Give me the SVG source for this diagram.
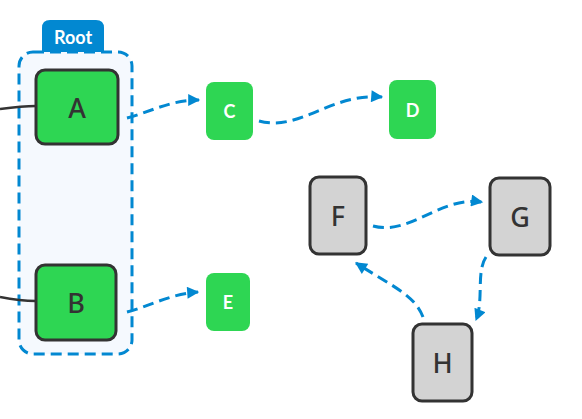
<svg xmlns="http://www.w3.org/2000/svg" width="582" height="419" viewBox="0 0 582 419">
<style>
.edge{fill:none;stroke:#0288d1;stroke-width:3;stroke-dasharray:11 6;}
.in{fill:none;stroke:#333;stroke-width:2.5;}
.big{fill:#2ed653;stroke:#333;stroke-width:3;}
.gray{fill:#d3d3d3;stroke:#333;stroke-width:3;}
.small{fill:#2ed653;}
.lbl{font-family:"Noto Sans",Lato,sans-serif;fill:#333;font-size:27px;font-weight:500;text-anchor:middle;dominant-baseline:central;}
.wl{font-family:Lato,"Noto Sans",sans-serif;fill:#fff;font-size:18px;font-weight:bold;text-anchor:middle;dominant-baseline:central;}
</style>
<defs>
<marker id="arr" viewBox="0 0 10 10" refX="9" refY="5" markerWidth="4.6" markerHeight="4" orient="auto" markerUnits="strokeWidth">
<path d="M0,0 L10,5 L0,10 Z" fill="#0288d1"/>
</marker>
</defs>
<g id="root">
<path d="M42,52 V28 Q42,20 50,20 H96 Q104,20 104,28 V52 Z" fill="#0288d1"/>
<rect x="19" y="52" width="113" height="302" rx="14" fill="#f5f9fe" stroke="#0288d1" stroke-width="3" stroke-dasharray="11 6"/>
<text x="73" y="37" class="wl" font-size="14">Root</text>
</g>
<g id="connectors">
<path class="in" d="M0,109 C15,107 25,106 36,106"/>
<path class="in" d="M0,297 C15,300 25,301 36,301"/>
<path class="edge" marker-end="url(#arr)" d="M127,118 C150,112 170,100 199,100"/>
<path class="edge" marker-end="url(#arr)" d="M259,121 C300,132 330,93 382,97"/>
<path class="edge" marker-end="url(#arr)" d="M127,312 C150,306 170,294 198,292"/>
<path class="edge" marker-end="url(#arr)" d="M373,226 C410,236 440,196 482,202"/>
<path class="edge" marker-end="url(#arr)" d="M486,257 C476,272 484,300 476,320"/>
<path class="edge" marker-end="url(#arr)" d="M423,317 C415,295 390,285 356,263"/>
</g>
<g id="node-A"><rect class="big" x="36" y="70" width="82" height="74" rx="9"/><text class="lbl" x="77" y="107">A</text></g>
<g id="node-B"><rect class="big" x="36" y="265" width="80" height="75" rx="9"/><text class="lbl" x="76" y="302">B</text></g>
<g id="node-C"><rect class="small" x="206" y="82" width="47" height="58" rx="8"/><text class="wl" x="229.5" y="111">C</text></g>
<g id="node-D"><rect class="small" x="389" y="80" width="47" height="59" rx="8"/><text class="wl" x="412.5" y="109.5">D</text></g>
<g id="node-E"><rect class="small" x="206" y="273" width="44" height="58" rx="8"/><text class="wl" x="228" y="302">E</text></g>
<g id="node-F"><rect class="gray" x="310" y="177" width="56" height="77" rx="9"/><text class="lbl" x="338" y="215.5">F</text></g>
<g id="node-G"><rect class="gray" x="490" y="178" width="60" height="77" rx="9"/><text class="lbl" x="520" y="216.5">G</text></g>
<g id="node-H"><rect class="gray" x="413" y="324" width="59" height="77" rx="9"/><text class="lbl" x="442.5" y="362.5">H</text></g>
</svg>
